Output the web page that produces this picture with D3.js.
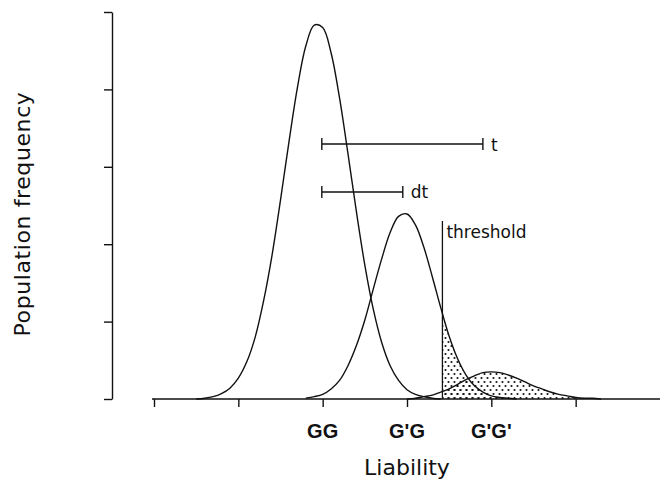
<!DOCTYPE html>
<html>
<head>
<meta charset="utf-8">
<script src="https://cdn.jsdelivr.net/npm/d3@7"></script>
<style>
    body { margin: 0; background: #fff; }
    svg { display: block; }
    .lbl { font-family: "DejaVu Sans", sans-serif; fill: #111; }
    .geno { font-family: "Liberation Sans", Arial, sans-serif; font-weight: bold; fill: #111; }
</style>
</head>
<body>
<svg id="chart" width="660" height="479"></svg>
<script>
// liability values (x) and population frequency (y)
var ggLiability = [0.5, 0.6, 0.7, 0.8, 0.9, 1.0, 1.1, 1.2, 1.3, 1.4, 1.5, 1.6, 1.7, 1.8, 1.9,
    2.0, 2.1, 2.2, 2.3, 2.4, 2.5, 2.6, 2.7, 2.8, 2.9, 3.0, 3.1, 3.2, 3.3, 3.4];
var ggFreq = [0.00, 0.01, 0.03, 0.07, 0.14, 0.27, 0.48, 0.80, 1.27, 1.86, 2.57, 3.32, 4.02, 4.56, 4.83,
    4.80, 4.47, 3.89, 3.17, 2.42, 1.73, 1.16, 0.73, 0.43, 0.24, 0.12, 0.06, 0.03, 0.01, 0.00];

var hetLiability = [1.8, 1.9, 2.0, 2.1, 2.2, 2.3, 2.4, 2.5, 2.6, 2.7, 2.8, 2.9, 3.0,
    3.1, 3.2, 3.3, 3.4, 3.5, 3.6, 3.7, 3.8, 3.9, 4.0, 4.1, 4.2, 4.3];
var hetFreq = [0.01, 0.03, 0.06, 0.13, 0.24, 0.43, 0.69, 1.02, 1.42, 1.81, 2.15, 2.36, 2.39,
    2.25, 1.96, 1.58, 1.18, 0.81, 0.52, 0.31, 0.17, 0.09, 0.04, 0.02, 0.01, 0.00];

var homLiability = [3.0, 3.1, 3.2, 3.3, 3.4, 3.5, 3.6, 3.7, 3.8, 3.9, 4.0, 4.1,
    4.2, 4.3, 4.4, 4.5, 4.6, 4.7, 4.8, 4.9, 5.0, 5.1, 5.2, 5.3];
var homFreq = [0.00, 0.01, 0.03, 0.05, 0.09, 0.13, 0.19, 0.25, 0.30, 0.34, 0.35, 0.34,
    0.31, 0.27, 0.22, 0.17, 0.13, 0.09, 0.06, 0.04, 0.02, 0.01, 0.01, 0.00];

var xTicks = [0, 1, 2, 3, 4, 5];
var yTicks = [0, 1, 2, 3, 4, 5];
var genotypePos = [2, 3, 4];
var genotypeLabels = ["GG", "G'G", "G'G'"];

var threshold = 3.42;
var tBracket = [1.99, 3.90];
var dtBracket = [1.99, 2.95];

!function () {
    var svg = d3.select("#chart");

    var x = d3.scaleLinear().domain([0, 6]).range([154, 660]);
    var y = d3.scaleLinear().domain([0, 5]).range([399, 12]);

    function toPoints(xs, ys) {
        return xs.map(function (v, i) { return [v, ys[i]]; });
    }

    // dotted fill for the affected part
    var defs = svg.append("defs");
    var pat = defs.append("pattern")
        .attr("id", "dots")
        .attr("patternUnits", "userSpaceOnUse")
        .attr("width", 6)
        .attr("height", 8);
    pat.append("circle").attr("cx", 1.5).attr("cy", 2).attr("r", 1.05).attr("fill", "#111");
    pat.append("circle").attr("cx", 4.5).attr("cy", 6).attr("r", 1.05).attr("fill", "#111");

    defs.append("clipPath").attr("id", "beyond")
        .append("rect")
        .attr("x", x(threshold))
        .attr("y", 0)
        .attr("width", 660 - x(threshold))
        .attr("height", y(0));

    var area = d3.area()
        .x(function (d) { return x(d[0]); })
        .y0(y(0))
        .y1(function (d) { return y(d[1]); })
        .curve(d3.curveCatmullRom);

    var shade = svg.append("g").attr("clip-path", "url(#beyond)");
    [toPoints(hetLiability, hetFreq), toPoints(homLiability, homFreq)].forEach(function (pts) {
        shade.append("path")
            .attr("d", area(pts))
            .attr("fill", "url(#dots)");
    });

    // axes
    var yAxis = d3.axisLeft(y).tickValues(yTicks).tickFormat("").tickSize(8).tickSizeOuter(0);
    var xAxis = d3.axisBottom(x).tickValues(xTicks).tickFormat("").tickSize(8).tickSizeOuter(0);

    var gy = svg.append("g").attr("transform", "translate(112,0)").call(yAxis);
    var gx = svg.append("g").attr("transform", "translate(0," + y(0) + ")").call(xAxis);
    [gx, gy].forEach(function (g) {
        g.selectAll("path, line").attr("stroke", "#111").attr("stroke-width", 1.4);
    });
    gx.select(".domain").attr("d", "M152,0H660");

    // curves
    var line = d3.line()
        .x(function (d) { return x(d[0]); })
        .y(function (d) { return y(d[1]); })
        .curve(d3.curveCatmullRom);

    [[ggLiability, ggFreq], [hetLiability, hetFreq], [homLiability, homFreq]].forEach(function (s) {
        svg.append("path")
            .attr("d", line(toPoints(s[0], s[1])))
            .attr("fill", "none")
            .attr("stroke", "#111")
            .attr("stroke-width", 1.4);
    });

    // threshold
    svg.append("line")
        .attr("x1", x(threshold)).attr("x2", x(threshold))
        .attr("y1", 221).attr("y2", y(0))
        .attr("stroke", "#111").attr("stroke-width", 1.3);
    svg.append("text").attr("class", "lbl")
        .attr("x", x(threshold) + 4).attr("y", 238)
        .attr("font-size", 17)
        .text("threshold");

    // t and dt brackets
    function bracket(range, yPos, label, labelY) {
        var g = svg.append("g").attr("stroke", "#111").attr("stroke-width", 1.4);
        g.append("line").attr("x1", x(range[0])).attr("x2", x(range[1])).attr("y1", yPos).attr("y2", yPos);
        range.forEach(function (v) {
            g.append("line").attr("x1", x(v)).attr("x2", x(v)).attr("y1", yPos - 6).attr("y2", yPos + 6);
        });
        svg.append("text").attr("class", "lbl")
            .attr("x", x(range[1]) + 8).attr("y", labelY)
            .attr("font-size", 17)
            .text(label);
    }
    bracket(tBracket, 144, "t", 151);
    bracket(dtBracket, 192, "dt", 198);

    // genotype labels
    svg.selectAll(".geno").data(genotypeLabels).enter()
        .append("text").attr("class", "geno")
        .attr("x", function (d, i) { return x(genotypePos[i]); })
        .attr("y", 438)
        .attr("text-anchor", "middle")
        .attr("font-size", 20)
        .text(function (d) { return d; });

    // axis titles
    svg.append("text").attr("class", "lbl")
        .attr("x", 407).attr("y", 475)
        .attr("text-anchor", "middle")
        .attr("font-size", 22)
        .text("Liability");

    svg.append("text").attr("class", "lbl")
        .attr("transform", "translate(30,214) rotate(-90)")
        .attr("text-anchor", "middle")
        .attr("font-size", 22)
        .attr("letter-spacing", 0.6)
        .text("Population frequency");
}();
</script>
</body>
</html>
